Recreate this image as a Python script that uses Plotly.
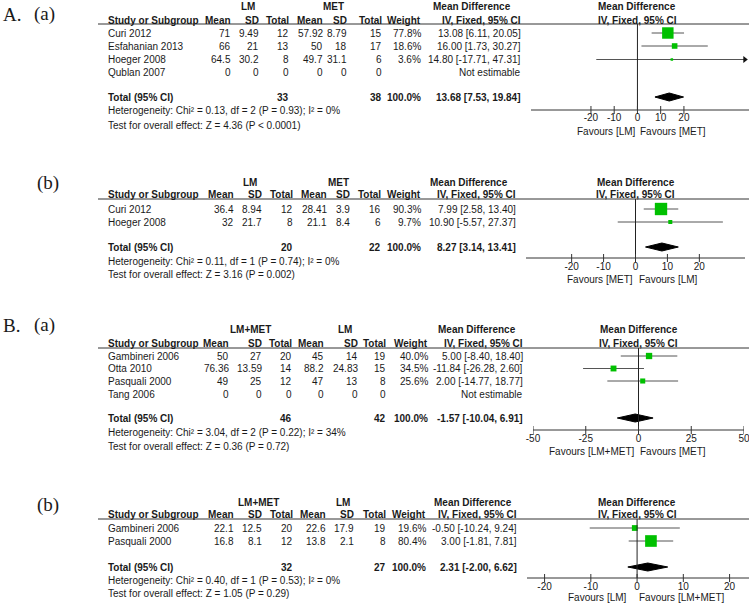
import math
import plotly.graph_objects as go

W, H = 749, 604
SANS = "Liberation Sans, Arial, sans-serif"
SERIF = "Liberation Serif, Times New Roman, serif"
TXT = "#1a1a1a"
GREEN = "#00c000"
LINE = "#555555"

# ---------------- data ----------------
# A (a)
aa_studies = ["Curi 2012", "Esfahanian 2013", "Hoeger 2008", "Qublan 2007"]
aa_g1_mean = [71, 66, 64.5, 0]
aa_g1_sd = [9.49, 21, 30.2, 0]
aa_g1_n = [12, 13, 8, 0]
aa_g2_mean = [57.92, 50, 49.7, 0]
aa_g2_sd = [8.79, 18, 31.1, 0]
aa_g2_n = [15, 17, 6, 0]
aa_weight = [77.8, 18.6, 3.6, None]
aa_md = [13.08, 16.00, 14.80, None]
aa_lo = [6.11, 1.73, -17.71, None]
aa_hi = [20.05, 30.27, 47.31, None]
aa_tot_n = [33, 38]
aa_tot_md = [13.68, 7.53, 19.84]
aa_het = "Heterogeneity: Chi² = 0.13, df = 2 (P = 0.93); I² = 0%"
aa_test = "Test for overall effect: Z = 4.36 (P < 0.0001)"
aa_groups = ["LM", "MET"]
aa_favours = ["Favours [LM]", "Favours [MET]"]
aa_ticks = [-20, -10, 0, 10, 20]

# A (b)
ab_studies = ["Curi 2012", "Hoeger 2008"]
ab_g1_mean = [36.4, 32]
ab_g1_sd = [8.94, 21.7]
ab_g1_n = [12, 8]
ab_g2_mean = [28.41, 21.1]
ab_g2_sd = [3.9, 8.4]
ab_g2_n = [16, 6]
ab_weight = [90.3, 9.7]
ab_md = [7.99, 10.90]
ab_lo = [2.58, -5.57]
ab_hi = [13.40, 27.37]
ab_tot_n = [20, 22]
ab_tot_md = [8.27, 3.14, 13.41]
ab_het = "Heterogeneity: Chi² = 0.11, df = 1 (P = 0.74); I² = 0%"
ab_test = "Test for overall effect: Z = 3.16 (P = 0.002)"
ab_groups = ["LM", "MET"]
ab_favours = ["Favours [MET]", "Favours [LM]"]
ab_ticks = [-20, -10, 0, 10, 20]

# B (a)
ba_studies = ["Gambineri 2006", "Otta 2010", "Pasquali 2000", "Tang 2006"]
ba_g1_mean = [50, 76.36, 49, 0]
ba_g1_sd = [27, 13.59, 25, 0]
ba_g1_n = [20, 14, 12, 0]
ba_g2_mean = [45, 88.2, 47, 0]
ba_g2_sd = [14, 24.83, 13, 0]
ba_g2_n = [19, 15, 8, 0]
ba_weight = [40.0, 34.5, 25.6, None]
ba_md = [5.00, -11.84, 2.00, None]
ba_lo = [-8.40, -26.28, -14.77, None]
ba_hi = [18.40, 2.60, 18.77, None]
ba_tot_n = [46, 42]
ba_tot_md = [-1.57, -10.04, 6.91]
ba_het = "Heterogeneity: Chi² = 3.04, df = 2 (P = 0.22); I² = 34%"
ba_test = "Test for overall effect: Z = 0.36 (P = 0.72)"
ba_groups = ["LM+MET", "LM"]
ba_favours = ["Favours [LM+MET]", "Favours [MET]"]
ba_ticks = [-50, -25, 0, 25, 50]

# B (b)
bb_studies = ["Gambineri 2006", "Pasquali 2000"]
bb_g1_mean = [22.1, 16.8]
bb_g1_sd = [12.5, 8.1]
bb_g1_n = [20, 12]
bb_g2_mean = [22.6, 13.8]
bb_g2_sd = [17.9, 2.1]
bb_g2_n = [19, 8]
bb_weight = [19.6, 80.4]
bb_md = [-0.50, 3.00]
bb_lo = [-10.24, -1.81]
bb_hi = [9.24, 7.81]
bb_tot_n = [32, 27]
bb_tot_md = [2.31, -2.00, 6.62]
bb_het = "Heterogeneity: Chi² = 0.40, df = 1 (P = 0.53); I² = 0%"
bb_test = "Test for overall effect: Z = 1.05 (P = 0.29)"
bb_groups = ["LM+MET", "LM"]
bb_favours = ["Favours [LM]", "Favours [LM+MET]"]
bb_ticks = [-20, -10, 0, 10, 20]

# ---------------- layout of each panel (pixel positions) ----------------
panels = [
    dict(studies=aa_studies, g1m=aa_g1_mean, g1s=aa_g1_sd, g1n=aa_g1_n,
         g2m=aa_g2_mean, g2s=aa_g2_sd, g2n=aa_g2_n, w=aa_weight, md=aa_md,
         lo=aa_lo, hi=aa_hi, tn=aa_tot_n, tmd=aa_tot_md, het=aa_het, test=aa_test,
         groups=aa_groups, fav=aa_favours, ticks=aa_ticks,
         ax="x2", dom=(531, 749), rng=(-45.8, 48.0), clip=46.2,
         grp_y=6, hdr_y=20, line_y=24, rows=[33, 46, 59.5, 72.5], tot_y=97,
         het_y=110.5, test_y=125.5, cols=[107, 232, 260, 290, 324, 348, 383, 422, 522],
         gc=[248, 333], mdc=472, axis_y=110, tl_y=118.5, fav_y=131, fav_x=[606, 673], k=1.3),
    dict(studies=ab_studies, g1m=ab_g1_mean, g1s=ab_g1_sd, g1n=ab_g1_n,
         g2m=ab_g2_mean, g2s=ab_g2_sd, g2n=ab_g2_n, w=ab_weight, md=ab_md,
         lo=ab_lo, hi=ab_hi, tn=ab_tot_n, tmd=ab_tot_md, het=ab_het, test=ab_test,
         groups=ab_groups, fav=ab_favours, ticks=ab_ticks,
         ax="x3", dom=(526, 745), rng=(-34.3, 34.3), clip=34.3,
         grp_y=182, hdr_y=194, line_y=199, rows=[209, 222], tot_y=247,
         het_y=261, test_y=274, cols=[107, 235, 263, 294, 328, 351, 382, 422, 517],
         gc=[250, 338], mdc=469, axis_y=258, tl_y=267, fav_y=279, fav_x=[600, 668], k=1.3),
    dict(studies=ba_studies, g1m=ba_g1_mean, g1s=ba_g1_sd, g1n=ba_g1_n,
         g2m=ba_g2_mean, g2s=ba_g2_sd, g2n=ba_g2_n, w=ba_weight, md=ba_md,
         lo=ba_lo, hi=ba_hi, tn=ba_tot_n, tmd=ba_tot_md, het=ba_het, test=ba_test,
         groups=ba_groups, fav=ba_favours, ticks=ba_ticks,
         ax="x4", dom=(533, 744), rng=(-50, 50), clip=50,
         grp_y=329, hdr_y=343, line_y=348, rows=[356, 368.5, 381, 394], tot_y=418,
         het_y=432, test_y=446, cols=[107, 230, 263, 293, 325, 359, 387, 429, 524],
         gc=[250, 345], mdc=477, axis_y=430, tl_y=439, fav_y=451, fav_x=[592, 673], k=1.0),
    dict(studies=bb_studies, g1m=bb_g1_mean, g1s=bb_g1_sd, g1n=bb_g1_n,
         g2m=bb_g2_mean, g2s=bb_g2_sd, g2n=bb_g2_n, w=bb_weight, md=bb_md,
         lo=bb_lo, hi=bb_hi, tn=bb_tot_n, tmd=bb_tot_md, het=bb_het, test=bb_test,
         groups=bb_groups, fav=bb_favours, ticks=bb_ticks,
         ax="x5", dom=(527, 749), rng=(-23.8, 24.2), clip=24.2,
         grp_y=502, hdr_y=514, line_y=519, rows=[528, 541], tot_y=567,
         het_y=580, test_y=593, cols=[107, 235, 263, 294, 327, 355, 387, 427, 518],
         gc=[258, 343], mdc=473, axis_y=578, tl_y=587, fav_y=597, fav_x=[597, 682], k=1.3),
]

panel_labels = [("A.", 2, 14), ("(a)", 33, 14), ("(b)", 36, 183),
                ("B.", 2, 325), ("(a)", 33, 325), ("(b)", 36, 505)]

fig = go.Figure()
annotations = []
shapes = []


def ann(x, y, text, anchor="left", bold=False, size=10, family=SANS, xref="paper"):
    if xref == "paper":
        x = x / W
    annotations.append(dict(
        x=x, y=y, xref=xref, yref="y", text=f"<b>{text}</b>" if bold else text,
        showarrow=False, xanchor=anchor, yanchor="middle",
        font=dict(family=family, size=size, color=TXT), borderpad=0))


def fmt(v):
    return f"{v:g}"


for p in panels:
    c = p["cols"]
    ax = p["ax"]
    ann(p["gc"][0], p["grp_y"], p["groups"][0], "center", bold=True)
    ann(p["gc"][1], p["grp_y"], p["groups"][1], "center", bold=True)
    ann(p["mdc"], p["grp_y"], "Mean Difference", "center", bold=True)
    ann(c[0], p["hdr_y"], "Study or Subgroup", "left", bold=True)
    for i, t in zip(range(1, 9), ["Mean", "SD", "Total", "Mean", "SD", "Total", "Weight",
                                   "IV, Fixed, 95% CI"]):
        ann(c[i], p["hdr_y"], t, "right", bold=True)
    ann(0, p["grp_y"], "Mean Difference", "center", bold=True, xref=ax)
    ann(0, p["hdr_y"], "IV, Fixed, 95% CI", "center", bold=True, xref=ax)
    shapes.append(dict(type="line", xref="paper", yref="y", x0=98 / W, x1=1,
                       y0=p["line_y"], y1=p["line_y"], line=dict(color="#333", width=1)))
    for j, s in enumerate(p["studies"]):
        y = p["rows"][j]
        ann(c[0], y, s, "left")
        vals = [fmt(p["g1m"][j]), fmt(p["g1s"][j]), str(p["g1n"][j]),
                fmt(p["g2m"][j]), fmt(p["g2s"][j]), str(p["g2n"][j])]
        for i, v in enumerate(vals):
            ann(c[i + 1], y, v, "right")
        if p["md"][j] is None:
            ann(c[8], y, "Not estimable", "right")
        else:
            ann(c[7], y, f"{p['w'][j]:.1f}%", "right")
            ann(c[8], y, f"{p['md'][j]:.2f} [{p['lo'][j]:.2f}, {p['hi'][j]:.2f}]", "right")
            hi = min(p["hi"][j], p["clip"])
            fig.add_trace(go.Scatter(x=[p["lo"][j], hi], y=[y, y], mode="lines",
                                     xaxis=ax, yaxis="y", line=dict(color=LINE, width=1),
                                     hoverinfo="skip", showlegend=False))
            if p["hi"][j] > p["clip"]:
                fig.add_trace(go.Scatter(x=[p["clip"]], y=[y], mode="markers", xaxis=ax,
                                         yaxis="y", marker=dict(symbol="triangle-right",
                                                                size=6, color="#111"),
                                         hoverinfo="skip", showlegend=False))
            fig.add_trace(go.Scatter(x=[p["md"][j]], y=[y], mode="markers", xaxis=ax,
                                     yaxis="y",
                                     marker=dict(symbol="square", color=GREEN,
                                                 size=max(2.5, p["k"] * math.sqrt(p["w"][j])),
                                                 line=dict(width=0)),
                                     hoverinfo="skip", showlegend=False))
    ty = p["tot_y"]
    ann(c[0], ty, "Total (95% CI)", "left", bold=True)
    ann(c[3], ty, str(p["tn"][0]), "right", bold=True)
    ann(c[6], ty, str(p["tn"][1]), "right", bold=True)
    ann(c[7], ty, "100.0%", "right", bold=True)
    m, l, h = p["tmd"]
    ann(c[8], ty, f"{m:.2f} [{l:.2f}, {h:.2f}]", "right", bold=True)
    fig.add_trace(go.Scatter(x=[l, m, h, m, l], y=[ty, ty - 4, ty, ty + 4, ty], mode="lines",
                             fill="toself", fillcolor="#000", line=dict(color="#000", width=1),
                             xaxis=ax, yaxis="y", hoverinfo="skip", showlegend=False))
    ann(c[0], p["het_y"], p["het"], "left")
    ann(c[0], p["test_y"], p["test"], "left")
    fig.add_trace(go.Scatter(x=[0, 0], y=[p["line_y"], p["axis_y"]], mode="lines",
                             line=dict(color="#222", width=1), xaxis=ax, yaxis="y",
                             hoverinfo="skip", showlegend=False))
    fig.add_trace(go.Scatter(x=list(p["rng"]), y=[p["axis_y"]] * 2, mode="lines",
                             line=dict(color="#333", width=1), xaxis=ax, yaxis="y",
                             hoverinfo="skip", showlegend=False))
    tx, tyy = [], []
    for t in p["ticks"]:
        tx += [t, t, None]
        tyy += [p["axis_y"] - 4, p["axis_y"] + 4, None]
    fig.add_trace(go.Scatter(x=tx, y=tyy, mode="lines", line=dict(color="#333", width=1),
                             xaxis=ax, yaxis="y", hoverinfo="skip", showlegend=False))
    fig.add_trace(go.Scatter(x=p["ticks"], y=[p["tl_y"]] * len(p["ticks"]), mode="text",
                             text=[str(t) for t in p["ticks"]], textposition="middle center",
                             textfont=dict(family=SANS, size=10, color=TXT), xaxis=ax,
                             yaxis="y", hoverinfo="skip", showlegend=False, cliponaxis=False))
    ann(p["fav_x"][0], p["fav_y"], p["fav"][0], "center")
    ann(p["fav_x"][1], p["fav_y"], p["fav"][1], "center")

for t, x, y in panel_labels:
    ann(x, y, t, "left", size=19, family=SERIF)

layout = dict(
    width=W, height=H, margin=dict(l=0, r=0, t=0, b=0, pad=0),
    paper_bgcolor="white", plot_bgcolor="rgba(0,0,0,0)",
    xaxis=dict(domain=[0, 1], range=[0, W], visible=False, anchor="y"),
    yaxis=dict(domain=[0, 1], range=[H, 0], visible=False, anchor="x"),
    annotations=annotations, shapes=shapes, showlegend=False,
)
for p in panels:
    key = "xaxis" + p["ax"][1:]
    layout[key] = dict(domain=[p["dom"][0] / W, p["dom"][1] / W], range=list(p["rng"]),
                       visible=False, anchor="y", fixedrange=True)
fig.update_layout(**layout)
fig.write_html("out.html", config={"displayModeBar": False, "staticPlot": True},
               post_script="document.body.style.margin='0';")
